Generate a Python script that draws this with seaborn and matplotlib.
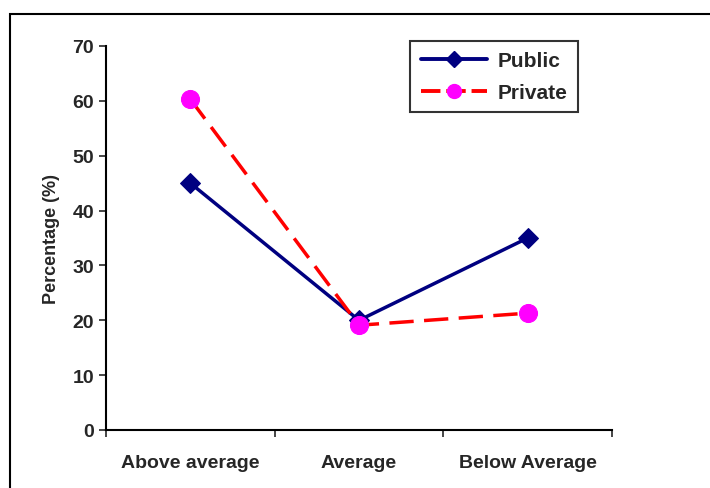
import matplotlib.pyplot as plt
from matplotlib.patches import Rectangle
import seaborn as sns
import pandas as pd

categories = ["Above average", "Average", "Below Average"]
public = [45.0, 20.0, 35.0]
private = [60.3, 19.1, 21.3]

df = pd.DataFrame({
    "Category": categories * 2,
    "Percentage": public + private,
    "Sector": ["Public"] * 3 + ["Private"] * 3,
})

sns.set_style("white")
plt.rcParams["font.family"] = ["Liberation Sans", "DejaVu Sans"]
plt.rcParams["font.weight"] = "bold"

fig = plt.figure(figsize=(7.1, 4.89), dpi=100)
ax = fig.add_axes([106 / 710, 1 - 431 / 489, 506 / 710, 384 / 489])

sns.lineplot(
    data=df, x="Category", y="Percentage", hue="Sector", style="Sector",
    palette={"Public": "#000080", "Private": "#ff0000"},
    dashes={"Public": "", "Private": (7, 3)},
    markers={"Public": "D", "Private": "o"},
    sort=False, linewidth=2.5, ax=ax, legend=False,
)
# recolor private markers to magenta
for line, mfc, ms in zip(ax.lines, ["#000080", "#ff00ff"], [10, 13]):
    line.set_markerfacecolor(mfc)
    line.set_markeredgecolor(mfc)
    line.set_markersize(ms)

ax.set_xlim(-0.5, 2.5)
ax.set_ylim(0, 70)
ax.set_yticks(range(0, 71, 10))
ax.set_xticks([0, 1, 2])
ax.set_xticks([-0.5, 0.5, 1.5, 2.5], minor=True)
ax.tick_params(axis="x", which="major", length=0, pad=17, labelsize=14)
ax.tick_params(axis="x", which="minor", length=5, width=1.2, direction="out", bottom=True)
ax.tick_params(axis="y", length=5, width=1.2, direction="out", left=True, labelsize=14)
for lab in ax.get_xticklabels() + ax.get_yticklabels():
    lab.set_fontweight("bold")
ax.set_xlabel("")
ax.set_ylabel("Percentage (%)", fontsize=13, fontweight="bold", labelpad=9)
for side in ["top", "right"]:
    ax.spines[side].set_visible(False)
for side in ["left", "bottom"]:
    ax.spines[side].set_color("black")
    ax.spines[side].set_linewidth(1.5)

handles = [
    plt.Line2D([], [], color="#000080", lw=2.8, marker="D", ms=8,
               mfc="#000080", mec="#000080"),
    plt.Line2D([], [], color="#ff0000", lw=2.8, ls=(0, (5, 1.5)), marker="o", ms=10,
               mfc="#ff00ff", mec="#ff00ff"),
]
leg = ax.legend(handles, ["Public", "Private"], loc="upper right",
                bbox_to_anchor=(578 / 710, 1 - 42 / 489), bbox_transform=fig.transFigure,
                borderaxespad=0, frameon=True, fancybox=False, edgecolor="black",
                fontsize=15, handlelength=3.2, borderpad=0.5, labelspacing=0.6,
                handletextpad=0.5)
leg.get_frame().set_linewidth(1.5)
for t in leg.get_texts():
    t.set_fontweight("bold")

fig.patches.append(Rectangle((10 / 710, -0.1), 1.0, (489 - 15) / 489 + 0.1,
                             transform=fig.transFigure, fill=False,
                             edgecolor="black", linewidth=1.5))

fig.savefig("out.png", dpi=100)
